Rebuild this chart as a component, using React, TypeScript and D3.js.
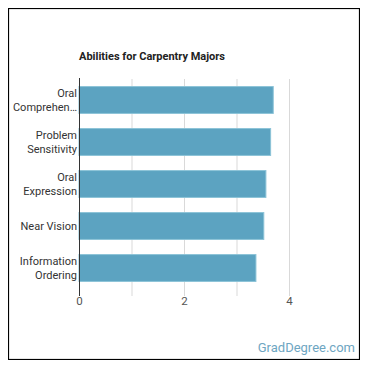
import React, { useEffect, useRef } from 'react';
import * as d3 from 'd3';

const abilities = ['Oral Comprehension', 'Problem Sensitivity', 'Oral Expression', 'Near Vision', 'Information Ordering'];
const labelLines = [['Oral', 'Comprehen…'], ['Problem', 'Sensitivity'], ['Oral', 'Expression'], ['Near Vision'], ['Information', 'Ordering']];
const scores = [3.7, 3.65, 3.56, 3.52, 3.37];
const xTicks = [0, 2, 4];

const App = () => {
  const ref = useRef<SVGSVGElement>(null);

  useEffect(() => {
    const width = 352;
    const height = 352;
    const marginLeft = 71;
    const plotRight = 281;
    const plotTop = 71;
    const plotBottom = 281;

    const svg = d3.select(ref.current);
    svg.selectAll('*').remove();
    svg.attr('width', width).attr('height', height)
      .attr('font-family', 'Roboto, sans-serif')
      .style('display', 'block');

    svg.append('rect')
      .attr('x', 0.5).attr('y', 0.5)
      .attr('width', width - 1).attr('height', height - 1)
      .attr('fill', 'white').attr('stroke', '#000').attr('stroke-width', 1.2);

    const x = d3.scaleLinear().domain([0, 4]).range([marginLeft, plotRight]);
    const y = d3.scaleBand().domain(abilities).range([plotTop, plotBottom])
      .paddingInner(0.36).paddingOuter(0.18);

    // vertical grid lines every 1 unit
    svg.append('g')
      .selectAll('line')
      .data(d3.range(1, 5))
      .join('line')
      .attr('x1', d => x(d) + 0.5).attr('x2', d => x(d) + 0.5)
      .attr('y1', plotTop).attr('y2', plotBottom + 7)
      .attr('stroke', '#d9d9d9');

    svg.append('g')
      .selectAll('rect')
      .data(abilities)
      .join('rect')
      .attr('x', x(0))
      .attr('y', d => y(d)!)
      .attr('width', (d, i) => x(scores[i]) - x(0))
      .attr('height', y.bandwidth())
      .attr('fill', '#5ca3c1')
      .attr('stroke', '#8cc3d7')
      .attr('stroke-width', 1);

    // y axis line
    svg.append('line')
      .attr('x1', x(0) + 0.5).attr('x2', x(0) + 0.5)
      .attr('y1', plotTop - 1).attr('y2', plotBottom + 7)
      .attr('stroke', '#333');

    const labels = svg.append('g')
      .attr('font-size', 11)
      .attr('fill', '#333')
      .attr('text-anchor', 'end');
    abilities.forEach((a, i) => {
      const lines = labelLines[i];
      const cy = y(a)! + y.bandwidth() / 2;
      lines.forEach((line, j) => {
        labels.append('text')
          .attr('x', x(0) - 2)
          .attr('y', cy + (j - (lines.length - 1) / 2) * 14)
          .attr('dy', '0.35em')
          .text(line);
      });
    });

    svg.append('g')
      .selectAll('text')
      .data(xTicks)
      .join('text')
      .attr('x', d => x(d) + 0.5)
      .attr('y', 297)
      .attr('text-anchor', 'middle')
      .attr('font-size', 11.5)
      .attr('fill', '#555')
      .text(d => d);

    svg.append('text')
      .attr('x', marginLeft)
      .attr('y', 52)
      .attr('font-size', 11)
      .attr('font-weight', 'bold')
      .attr('fill', '#222')
      .text('Abilities for Carpentry Majors');

    svg.append('text')
      .attr('x', 347)
      .attr('y', 344)
      .attr('text-anchor', 'end')
      .attr('font-size', 13)
      .attr('fill', '#6ea6c2')
      .text('GradDegree.com');
  }, []);

  return <svg ref={ref} />;
};

export default App;
